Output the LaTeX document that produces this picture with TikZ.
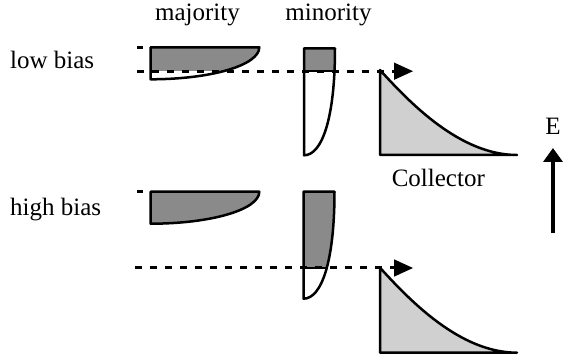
\documentclass[tikz,border=0pt]{standalone}
\usepackage{fontspec}
\setmainfont{Liberation Serif}
\usetikzlibrary{arrows.meta}
\definecolor{darkg}{RGB}{138,138,138}
\definecolor{lightg}{RGB}{208,208,208}
\begin{document}
\begin{tikzpicture}[x=1pt,y=-1pt,
  lbl/.style={font=\fontsize{25}{30}\selectfont, inner sep=0pt, anchor=base},
  outl/.style={line width=2.5pt, line join=round},
  fermi/.style={line width=3pt, dash pattern=on 6.5pt off 8.5pt},
  tick/.style={line width=3pt},
  headtri/.style={fill=black}]
\useasboundingbox (0,0) rectangle (563,358);
\def\majpath{(0,0) -- (108.6,0) .. controls (108.6,18) and (60,32) .. (0,32) -- cycle}
\def\minpath{(0,0) -- (31,0) .. controls (31,70) and (18,107) .. (0,107) -- cycle}
\def\colpath{(0,0) .. controls (30,33) and (80,85) .. (137,85) -- (0,85) -- cycle}

% labels
\node[lbl] (maj) at (197.5,20.7) {majority};
\node[lbl] (min) at (328.5,20.7) {minority};
\node[lbl, anchor=base west] (low) at (10,69) {low bias};
\node[lbl, anchor=base west] (high) at (10,216) {high bias};
\node[lbl] (coll) at (438.3,186.7) {Collector};
\node[lbl] (E) at (553,135) {E};

% ---------- low bias ----------
\begin{scope}[shift={(150.7,47.3)}]
  \begin{scope}\clip \majpath; \fill[darkg] (-1,-1) rectangle (110,24.2);\end{scope}
  \draw[outl] \majpath;
\end{scope}
\begin{scope}[shift={(304,48.3)}]
  \begin{scope}\clip \minpath; \fill[darkg] (-1,-1) rectangle (32,22.9);
    \draw[line width=2.5pt] (-1,22.9) -- (32,22.9);\end{scope}
  \draw[outl] \minpath;
\end{scope}
\begin{scope}[shift={(380,70)}]
  \fill[lightg] \colpath;
  \draw[outl] \colpath;
\end{scope}
\coordinate (lowstart) at (137,71.2);
\coordinate (lowend) at (395,71.2);
\draw[fermi] (lowstart) -- (lowend);
\fill[headtri] (394,62.5) -- (413,71.2) -- (394,79.9) -- cycle;
\draw[tick] (137,47.3) -- (143,47.3);

% ---------- high bias ----------
\begin{scope}[shift={(150.7,191.7)}]
  \fill[darkg] \majpath;
  \draw[outl] \majpath;
\end{scope}
\begin{scope}[shift={(303.5,191.7)}]
  \begin{scope}\clip \minpath; \fill[darkg] (-1,-1) rectangle (32,76.3);
    \draw[line width=2.5pt] (-1,76.3) -- (32,76.3);\end{scope}
  \draw[outl] \minpath;
\end{scope}
\begin{scope}[shift={(380,267.7)}]
  \fill[lightg] \colpath;
  \draw[outl] \colpath;
\end{scope}
\coordinate (highstart) at (135,268);
\coordinate (highend) at (395,268);
\draw[fermi] (highstart) -- (highend);
\fill[headtri] (394,259.3) -- (413,268) -- (394,276.7) -- cycle;
\draw[tick] (137,191.7) -- (143,191.7);

% ---------- field arrow ----------
\coordinate (Ebot) at (553,233);
\coordinate (Etop) at (553,148);
\draw[line width=4pt, -{Triangle[length=14pt,width=19pt]}] (Ebot) -- (Etop);
\end{tikzpicture}
\end{document}
